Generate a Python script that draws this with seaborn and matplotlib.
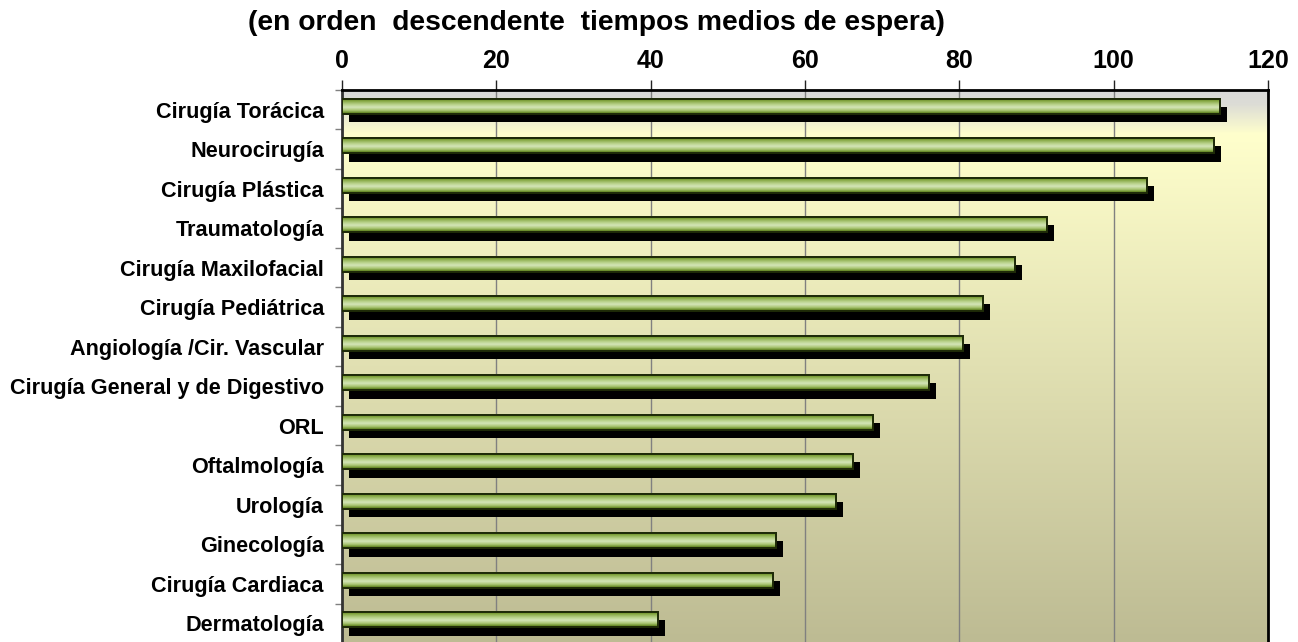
import numpy as np
import matplotlib
matplotlib.use('Agg')
import matplotlib.pyplot as plt
import seaborn as sns
import pandas as pd
from matplotlib import patheffects as pe
from matplotlib.colors import LinearSegmentedColormap
from matplotlib.patches import Rectangle

categories = [
    "Cirugía Torácica", "Neurocirugía", "Cirugía Plástica", "Traumatología",
    "Cirugía Maxilofacial", "Cirugía Pediátrica", "Angiología /Cir. Vascular",
    "Cirugía General y de Digestivo", "ORL", "Oftalmología", "Urología",
    "Ginecología", "Cirugía Cardiaca", "Dermatología",
]
values = [113.8, 113.0, 104.3, 91.4, 87.2, 83.1, 80.5, 76.1, 68.8, 66.2, 64.0, 56.2, 55.8, 41.0]
x_ticks = [0, 20, 40, 60, 80, 100, 120]
title = "(en orden  descendente  tiempos medios de espera)"

sns.set_theme(style='white')
plt.rcParams['font.family'] = ['Liberation Sans', 'DejaVu Sans']
plt.rcParams['text.color'] = 'black'
plt.rcParams['xtick.color'] = 'black'
plt.rcParams['ytick.color'] = 'black'
plt.rcParams['xtick.labelcolor'] = 'black'
plt.rcParams['ytick.labelcolor'] = 'black'

W, H = 1298, 642
fig = plt.figure(figsize=(W / 100, H / 100), dpi=100)
fig.patch.set_facecolor('white')
top_px, bot_px, left_px, right_px = 90, 643, 342, 1268
ax = fig.add_axes([left_px / W, 1 - bot_px / H, (right_px - left_px) / W, (bot_px - top_px) / H])
ax.set_facecolor('none')

df = pd.DataFrame({'cat': categories, 'val': values})
sns.barplot(data=df, y='cat', x='val', orient='h', width=0.39, color='#9BBB59',
            edgecolor='#1E2A08', linewidth=1.2, ax=ax, zorder=3)

n = len(categories)
ax.set_xlim(0, 120)
ax.set_ylim(n - 0.5, -0.5)

# background gradient
bg_cmap = LinearSegmentedColormap.from_list('bg', [
    (0.0, '#D9D9D9'), (0.025, '#DCDCD6'), (0.08, '#FFFFCC'), (1.0, '#BDBB93')])
bg = np.linspace(0, 1, 256).reshape(-1, 1)
ax.imshow(bg, cmap=bg_cmap, extent=(0, 1, 0, 1), origin='upper', aspect='auto',
          transform=ax.transAxes, zorder=0, interpolation='bilinear')

# bar styling
bar_cmap = LinearSegmentedColormap.from_list('bar', [
    (0.0, '#3F5A12'), (0.15, '#7FA23A'), (0.4, '#B8D28A'), (0.58, '#D4E5B8'),
    (0.78, '#A8C470'), (0.92, '#6B8E2A'), (1.0, '#3F5A12')])
grad = np.linspace(0, 1, 64).reshape(-1, 1)
fig.canvas.draw()
inv = ax.transData.inverted()
dy = inv.transform((0, 3.5))[1] - inv.transform((0, 0))[1]
for p in list(ax.patches):
    p.set_y(p.get_y() + dy)
    p.set_path_effects([pe.SimplePatchShadow(offset=(5, -6), shadow_rgbFace='black', alpha=1.0),
                        pe.Normal()])
    x0, y0 = p.get_x(), p.get_y()
    w, h = p.get_width(), p.get_height()
    im = ax.imshow(grad, cmap=bar_cmap, extent=(x0, x0 + w, y0 + h, y0), origin='upper',
                   aspect='auto', zorder=3.1, interpolation='bilinear')
    im.set_clip_path(p)
    ax.add_patch(Rectangle((x0, y0), w, h, fill=False, edgecolor='#1E2A08', lw=1.4, zorder=3.2))

ax.set_xlim(0, 120)
ax.set_ylim(n - 0.5, -0.5)

# axes
ax.xaxis.tick_top()
ax.set_xticks(x_ticks)
ax.set_xticklabels([str(t) for t in x_ticks], fontsize=18, fontweight='bold', color='black')
ax.tick_params(axis='x', which='major', top=True, bottom=False, length=7, width=1,
               color='#222222', pad=5.5, direction='out')
ax.set_yticks(range(n))
ax.set_yticklabels(categories, fontsize=15.6, fontweight='bold', color='black')
ax.set_yticks(np.arange(n + 1) - 0.5, minor=True)
ax.tick_params(axis='y', which='major', length=0, pad=13)
ax.tick_params(axis='y', which='minor', left=True, length=5, width=1, color='#808080', direction='out')
ax.set_xlabel('')
ax.set_ylabel('')
ax.grid(axis='x', color='#808080', lw=1)
ax.grid(axis='y', visible=False)
ax.set_axisbelow(True)
for s in ['top', 'right']:
    ax.spines[s].set_visible(True)
    ax.spines[s].set_color('black')
    ax.spines[s].set_linewidth(2)
ax.spines['left'].set_color('#333333')
ax.spines['left'].set_linewidth(2)
ax.spines['bottom'].set_visible(False)

fig.text(596 / W, 1 - 23 / H, title, ha='center', va='center', fontsize=20.3,
         fontweight='bold', color='black')

fig.savefig('out.png', dpi=100)
